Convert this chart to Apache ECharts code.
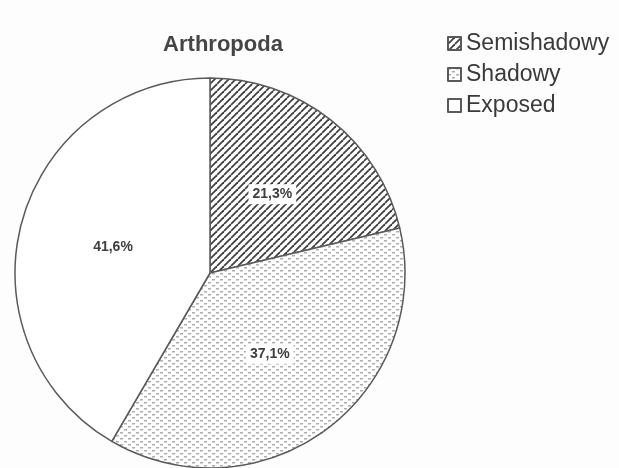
<!DOCTYPE html>
<html>
<head>
<meta charset="utf-8">
<script src="https://cdn.jsdelivr.net/npm/echarts@6/dist/echarts.min.js"></script>
<style>
  html, body { margin: 0; padding: 0; background: #fdfdfd; }
  #chart { width: 619px; height: 468px; }
</style>
</head>
<body>
<div id="chart"></div>
<script>
// Habitat shares for Arthropoda
const categories = ['Semishadowy', 'Shadowy', 'Exposed'];
const shares = [21.3, 37.1, 41.6];
const shareLabels = ['21,3%', '37,1%', '41,6%'];

// Diagonal hatch fill
function hatchPattern() {
  const s = 7;
  const c = document.createElement('canvas');
  c.width = s; c.height = s;
  const g = c.getContext('2d');
  g.fillStyle = '#ffffff';
  g.fillRect(0, 0, s, s);
  g.strokeStyle = '#404040';
  g.lineWidth = 1.8;
  for (let k = -1; k <= 1; k++) {
    g.beginPath();
    g.moveTo(k * s, s);
    g.lineTo(k * s + s, 0);
    g.stroke();
  }
  return c;
}

// Fine staggered dash fill
function dotPattern() {
  const w = 8, h = 6;
  const c = document.createElement('canvas');
  c.width = w; c.height = h;
  const g = c.getContext('2d');
  g.fillStyle = '#ffffff';
  g.fillRect(0, 0, w, h);
  g.fillStyle = '#adadad';
  g.fillRect(0, 0, 3, 1.5);
  g.fillRect(4, 3, 3, 1.5);
  return c;
}

const fills = [
  { image: hatchPattern(), repeat: 'repeat' },
  { image: dotPattern(), repeat: 'repeat' },
  '#ffffff'
];

const chart = echarts.init(document.getElementById('chart'));
chart.setOption({
  backgroundColor: '#fdfdfd',
  animation: false,
  title: {
    text: 'Arthropoda',
    left: 218,
    textAlign: 'center',
    top: 29,
    textStyle: { fontFamily: 'Liberation Sans', fontSize: 22, fontWeight: 'bold', color: '#454545' }
  },
  legend: {
    orient: 'vertical',
    left: 442,
    top: 27,
    itemWidth: 13,
    itemHeight: 13,
    itemGap: 8,
    icon: 'rect',
    textStyle: { fontFamily: 'Liberation Sans', fontSize: 23, color: '#3a3a3a', padding: [0, 0, 0, 0] },
    data: categories
  },
  series: [{
    type: 'pie',
    center: [210, 273],
    radius: 195,
    startAngle: 90,
    clockwise: true,
    silent: true,
    itemStyle: { borderColor: '#5a5a5a', borderWidth: 1.5 },
    label: {
      position: 'inner',
      formatter: p => shareLabels[p.dataIndex],
      fontFamily: 'Liberation Sans',
      fontSize: 14,
      fontWeight: 'bold',
      color: '#3e3e3e',
      backgroundColor: '#ffffff',
      padding: [3, 4]
    },
    labelLine: { show: false },
    data: categories.map((name, i) => ({
      name,
      value: shares[i],
      itemStyle: { color: fills[i] }
    }))
  }]
});
</script>
</body>
</html>
